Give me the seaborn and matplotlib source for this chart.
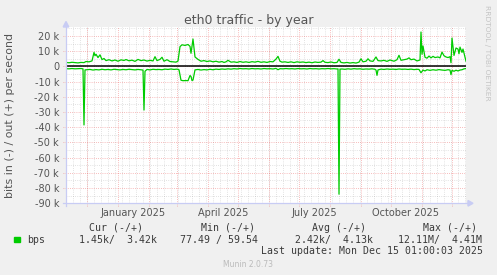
import numpy as np
import pandas as pd
import matplotlib
matplotlib.use("Agg")
import matplotlib.pyplot as plt
import seaborn as sns
from matplotlib.lines import Line2D
from matplotlib.patches import Rectangle, Polygon

# ---------------- data (values in kbit/s) ----------------
out_days = [0, 3, 6, 9, 12, 15, 18, 20, 23, 26, 28, 29, 30, 32, 34, 36, 38, 40, 43, 46,
            49, 52, 55, 58, 60, 63, 66, 69, 72, 75, 78, 81, 84, 87, 89, 91, 94, 96, 98, 101,
            104, 107, 110, 112, 114, 116, 119, 122, 124, 125, 127, 129, 132, 135, 138, 141, 144, 147, 150, 153,
            156, 158, 160, 162, 165, 168, 171, 174, 177, 180, 183, 186, 189, 192, 195, 198, 201, 204, 207, 210,
            212, 214, 216, 219, 222, 225, 228, 231, 234, 237, 240, 243, 246, 249, 252, 255, 257, 259, 262, 265,
            268, 271, 273, 275, 278, 281, 284, 287, 290, 293, 295, 297, 300, 302, 304, 307, 310, 312, 315, 318,
            321, 324, 326, 328, 331, 333, 335, 338, 341, 343, 345, 348, 351, 354, 355, 356, 357, 359, 361, 363,
            365, 367, 369, 372, 374, 376, 378, 380, 382, 384, 385, 386, 388, 390, 392, 393, 394, 396, 397, 399, 400]
out_kbps = [2.6, 2.4, 2.7, 2.5, 2.3, 2.6, 2.5, 3.2, 3.0, 3.6, 9.2, 7.0, 8.0, 5.8, 7.6, 4.5, 5.2, 3.8, 4.4, 3.6,
            4.2, 3.4, 4.3, 3.9, 4.5, 3.7, 4.1, 3.3, 4.6, 3.8, 4.2, 3.5, 4.0, 3.6, 6.4, 3.8, 4.6, 6.0, 3.4, 4.4,
            3.2, 3.0, 2.8, 3.5, 13.0, 14.2, 13.8, 14.4, 13.2, 8.6, 18.0, 6.2, 4.6, 3.4, 3.8, 3.2, 3.6, 3.0, 3.4, 2.8,
            3.2, 2.6, 3.0, 4.0, 2.8, 3.0, 2.6, 3.2, 2.7, 3.0, 2.6, 3.1, 2.8, 3.3, 2.7, 3.0, 2.6, 3.2, 3.0, 4.8,
            6.6, 3.4, 2.8, 3.0, 2.6, 3.0, 2.5, 3.0, 2.7, 2.9, 2.5, 2.8, 2.4, 2.9, 2.6, 2.8, 3.8, 2.7, 2.5, 2.9,
            2.4, 2.6, 4.7, 2.6, 2.3, 2.6, 2.2, 2.5, 2.2, 2.8, 5.0, 3.0, 3.4, 5.0, 3.6, 3.3, 6.2, 3.8, 3.6, 4.0,
            3.3, 4.2, 3.8, 3.4, 4.4, 7.3, 4.0, 4.4, 4.8, 5.6, 4.4, 4.8, 3.6, 4.2, 22.6, 8.0, 13.4, 6.0, 5.4, 6.8,
            5.6, 6.6, 5.8, 6.2, 5.6, 9.4, 7.0, 6.2, 5.8, 6.4, 2.4, 18.6, 7.2, 12.1, 11.4, 8.3, 12.7, 9.2, 11.4, 6.0, 3.4]

in_days = [0, 3, 6, 9, 12, 15, 17, 18, 19, 21, 24, 27, 30, 33, 36, 39, 42, 45, 48, 51,
           54, 57, 60, 63, 66, 69, 72, 75, 77, 78, 79, 81, 84, 87, 90, 93, 96, 99, 102, 105,
           108, 111, 113, 115, 117, 120, 122, 124, 125, 126, 127, 129, 132, 135, 138, 141, 144, 147, 150, 153,
           156, 159, 162, 165, 168, 171, 174, 177, 180, 183, 186, 189, 192, 195, 198, 201, 204, 207, 210, 212,
           214, 217, 220, 223, 226, 229, 232, 235, 238, 241, 244, 247, 250, 253, 256, 259, 262, 265, 268, 271,
           272, 273, 274, 276, 279, 282, 285, 288, 291, 294, 297, 300, 303, 306, 309, 310, 311, 312, 315, 318,
           321, 324, 327, 330, 333, 336, 339, 342, 345, 348, 351, 353, 355, 357, 359, 361, 364, 367, 370, 373,
           376, 379, 382, 384, 385, 386, 388, 390, 392, 394, 396, 398, 400]
in_kbps = [-1.5, -1.6, -1.4, -1.6, -1.5, -1.4, -1.6, -38.5, -2.3, -2.2, -2.0, -2.4, -2.1, -2.3, -1.9, -2.2, -2.0, -2.3, -1.9, -2.1,
           -2.3, -2.0, -2.2, -1.9, -2.1, -2.3, -2.0, -2.2, -2.4, -28.7, -3.2, -2.0, -2.3, -1.9, -2.1, -2.0, -2.2, -1.8, -2.0, -1.7,
           -2.0, -1.8, -2.2, -9.1, -9.4, -9.3, -9.4, -6.0, -6.6, -9.3, -9.0, -2.3, -2.0, -2.4, -2.1, -2.3, -1.9, -2.2, -1.8, -2.0,
           -1.7, -1.9, -1.6, -1.8, -1.5, -1.7, -1.4, -1.6, -1.5, -1.7, -1.4, -1.6, -1.5, -1.7, -1.4, -1.6, -1.5, -1.7, -1.3, -2.2,
           -1.5, -1.6, -1.4, -1.6, -1.5, -1.7, -1.4, -1.6, -1.5, -1.7, -1.4, -1.6, -1.5, -1.7, -1.5, -1.6, -1.4, -1.6, -1.5, -1.7,
           -1.6, -84.0, -1.8, -1.7, -1.9, -1.6, -1.8, -1.5, -1.7, -1.6, -1.9, -1.7, -1.8, -1.6, -1.9, -2.4, -5.9, -2.3, -1.8, -2.0,
           -1.7, -1.9, -1.8, -2.0, -1.7, -1.9, -1.8, -2.0, -1.8, -2.1, -1.9, -2.0, -4.2, -2.4, -3.0, -2.2, -2.6, -2.2, -2.5, -2.1,
           -2.4, -2.6, -2.2, -2.4, -5.4, -2.6, -3.2, -2.5, -3.0, -2.4, -2.2, -1.6, -1.45]

y_ticks_k = [-90, -80, -70, -60, -50, -40, -30, -20, -10, 0, 10, 20]
x_labels = ["January 2025", "April 2025", "July 2025", "October 2025"]
x_label_dates = ["2025-01-16", "2025-04-16", "2025-07-16", "2025-10-16"]

legend_headers = ["Cur (-/+)", "Min (-/+)", "Avg (-/+)", "Max (-/+)"]
legend_values = ["1.45k/  3.42k", "77.49 / 59.54", "2.42k/  4.13k", "12.11M/  4.41M"]
series_name = "bps"
title = "eth0 traffic - by year"
ylabel = "bits in (-) / out (+) per second"
last_update = "Last update: Mon Dec 15 01:00:03 2025"
footer = "Munin 2.0.73"
side_text = "RRDTOOL / TOBI OETIKER"

# ---------------- figure ----------------
W, H = 497, 275
fig = plt.figure(figsize=(W / 100, H / 100), dpi=100, facecolor="#F0F0F0")


def fx(x):
    return x / W


def fy(y):
    return 1 - y / H


AX_L, AX_R, AX_T, AX_B = 66, 466, 27, 203.3
ax = fig.add_axes([fx(AX_L), fy(AX_B), (AX_R - AX_L) / W, (AX_B - AX_T) / H])
ax.set_facecolor("white")
for s in ax.spines.values():
    s.set_visible(False)

start = pd.Timestamp("2024-11-10 01:00:03")
end = start + pd.Timedelta(days=400)

df_out = pd.DataFrame({"date": start + pd.to_timedelta(out_days, unit="D"),
                       "bps": np.array(out_kbps) * 1000})
df_in = pd.DataFrame({"date": start + pd.to_timedelta(in_days, unit="D"),
                      "bps": np.array(in_kbps) * 1000})

ax.set_xlim(start, end)
ax.set_ylim(-90000, 25900)

# grid
red = (0.92, 0.3, 0.3, 0.5)
grey = (0.6, 0.6, 0.6, 0.38)
dots = (0, (1, 1.6))
for d in pd.date_range("2024-11-17", end, freq="7D"):
    ax.axvline(d, color=grey, lw=0.6, ls=dots, zorder=1)
for d in pd.date_range("2024-12-01", "2025-12-01", freq="MS"):
    ax.axvline(d, ymin=-0.017, ymax=1, color=red, lw=0.6, ls=dots, zorder=1.2, clip_on=False)
for v in range(-85000, 26000, 10000):
    ax.axhline(v, color=grey, lw=0.6, ls=dots, zorder=1)
for v in range(-80000, 21000, 10000):
    ax.axhline(v, xmin=-0.008, xmax=1, color=red, lw=0.6, ls=dots, zorder=1.2, clip_on=False)

ax.axhline(0, color="black", lw=1.1, zorder=2)

sns.lineplot(data=df_out, x="date", y="bps", ax=ax, color="#00CC00", linewidth=0.9,
             estimator=None, legend=False, zorder=3)
sns.lineplot(data=df_in, x="date", y="bps", ax=ax, color="#00CC00", linewidth=0.9,
             estimator=None, legend=False, zorder=3)

ax.set_xlabel("")
ax.set_ylabel("")
ax.set_yticks([k * 1000 for k in y_ticks_k])
ax.set_yticklabels(["0" if k == 0 else f"{k} k" for k in y_ticks_k])
ax.set_xticks([pd.Timestamp(d) for d in x_label_dates])
ax.set_xticklabels(x_labels)
ax.tick_params(axis="y", length=0, pad=5, labelsize=7, labelcolor="#555555")
ax.tick_params(axis="x", length=0, pad=3.2, labelsize=7, labelcolor="#555555")

# axis lines with arrows
axis_col = "#C8CCF4"
fig.add_artist(Line2D([fx(63), fx(469)], [fy(AX_B), fy(AX_B)], color=axis_col, lw=0.9))
fig.add_artist(Polygon([[fx(468), fy(AX_B - 2.8)], [fx(473), fy(AX_B)], [fx(468), fy(AX_B + 2.8)]],
                       closed=True, color=axis_col, transform=fig.transFigure))
fig.add_artist(Line2D([fx(AX_L), fx(AX_L)], [fy(206), fy(26)], color=axis_col, lw=0.9))
fig.add_artist(Polygon([[fx(AX_L - 2.8), fy(27)], [fx(AX_L), fy(21.5)], [fx(AX_L + 2.8), fy(27)]],
                       closed=True, color=axis_col, transform=fig.transFigure))

# texts
fig.text(fx(248.5), fy(24), title, ha="center", va="baseline", fontsize=9, color="#555555")
fig.text(fx(10), fy(115), ylabel, ha="center", va="center", rotation=90, fontsize=7.9, color="#555555")
fig.text(fx(487), fy(5), side_text, ha="center", va="top", rotation=270, fontsize=5.4, color="#C4C4C4")

mono = dict(family="DejaVu Sans Mono", fontsize=7.1, color="#3a3a3a")
hdr_x = [89.3, 201, 312, 422.7]
val_x = [78.7, 180, 295.3, 397.7]
for t, x in zip(legend_headers, hdr_x):
    fig.text(fx(x), fy(231), t, ha="left", va="baseline", **mono)
for t, x in zip(legend_values, val_x):
    fig.text(fx(x), fy(242.7), t, ha="left", va="baseline", **mono)
fig.text(fx(26.7), fy(242.7), series_name, ha="left", va="baseline", **mono)
fig.add_artist(Rectangle((fx(14), fy(242)), 5.5 / W, 5.5 / H, transform=fig.transFigure,
                         color="#00CC00"))
fig.text(fx(482.8), fy(254.3), last_update, ha="right", va="baseline", **mono)
fig.text(fx(248), fy(266.7), footer, ha="center", va="baseline", fontsize=5.5, color="#BBBBBB")

fig.savefig("out.png", dpi=100, facecolor=fig.get_facecolor())
